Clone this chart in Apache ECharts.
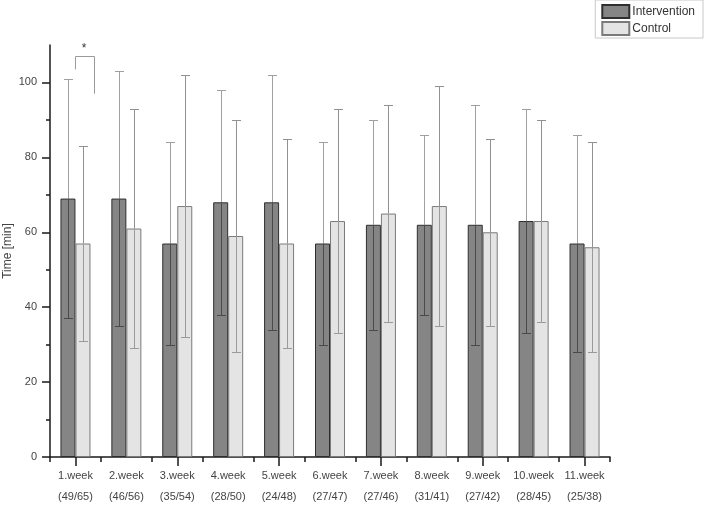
<!DOCTYPE html>
<html>
<head>
<meta charset="utf-8">
<script src="https://cdn.jsdelivr.net/npm/echarts@6/dist/echarts.min.js"></script>
<style>html,body{margin:0;padding:0;background:#fff}#c{width:704px;height:505px}</style>
</head>
<body>
<div id="c"></div>
<script>
var weeks = ['1.week','2.week','3.week','4.week','5.week','6.week','7.week','8.week','9.week','10.week','11.week'];
var counts = ['(49/65)','(46/56)','(35/54)','(28/50)','(24/48)','(27/47)','(27/46)','(31/41)','(27/42)','(28/45)','(25/38)'];
var intervention = [69, 69, 57, 68, 68, 57, 62, 62, 62, 63, 57];
var interventionLow = [37, 35, 30, 38, 34, 30, 34, 38, 30, 33, 28];
var interventionHigh = [101, 103, 84, 98, 102, 84, 90, 86, 94, 93, 86];
var control = [57, 61, 67, 59, 57, 63, 65, 67, 60, 63, 56];
var controlLow = [31, 29, 32, 28, 29, 33, 36, 35, 35, 36, 28];
var controlHigh = [83, 93, 102, 90, 85, 93, 94, 99, 85, 90, 84];
var yMajorTicks = [0, 20, 40, 60, 80, 100];
var yMinorTicks = [10, 30, 50, 70, 90];
var yAxisTitle = 'Time [min]';
// significance bracket: category index, bracket top, left end, right end
var sigBracket = [[0, 107, 103.5, 97]];

var categories = weeks.map(function (w, i) { return w + '\n' + counts[i]; });
var BAR_W = 15;
var FONT = 'Liberation Sans, Arial, sans-serif';

function errData(mean, lo, hi) {
  return mean.map(function (m, i) { return [i, lo[i], hi[i], m]; });
}
function errRender(offset, upColor, lowColor) {
  return function (params, api) {
    var i = api.value(0);
    var pLo = api.coord([i, api.value(1)]);
    var pHi = api.coord([i, api.value(2)]);
    var pM = api.coord([i, api.value(3)]);
    var x = Math.round(pM[0] + offset) + 0.5;
    var cap = 4.5;
    var yl = Math.round(pLo[1]) + 0.5, yh = Math.round(pHi[1]) + 0.5, ym = pM[1];
    return {
      type: 'group',
      children: [
        { type: 'line', shape: { x1: x, y1: yh, x2: x, y2: ym }, style: { stroke: upColor, lineWidth: 1 } },
        { type: 'line', shape: { x1: x, y1: ym, x2: x, y2: yl }, style: { stroke: lowColor, lineWidth: 1 } },
        { type: 'line', shape: { x1: x - cap, y1: yh, x2: x + cap, y2: yh }, style: { stroke: upColor, lineWidth: 1 } },
        { type: 'line', shape: { x1: x - cap, y1: yl, x2: x + cap, y2: yl }, style: { stroke: lowColor, lineWidth: 1 } }
      ]
    };
  };
}

var chart = echarts.init(document.getElementById('c'));
chart.setOption({
  animation: false,
  backgroundColor: '#fff',
  textStyle: { fontFamily: FONT },
  grid: { left: 50, right: 94, top: 45, bottom: 48, containLabel: false, outerBoundsMode: 'none' },
  graphic: [{
    type: 'text', x: 8, y: 251, rotation: Math.PI / 2,
    style: { text: yAxisTitle, align: 'center', verticalAlign: 'middle', fontSize: 12, fill: '#444', fontFamily: FONT }
  }],
  legend: {
    orient: 'vertical', right: 1, top: 0,
    icon: 'rect',
    itemWidth: 27, itemHeight: 13, itemGap: 2,
    padding: [4, 8, 2, 6],
    borderColor: '#c8c8c8', borderWidth: 1,
    textStyle: { fontSize: 12, color: '#333', fontFamily: FONT, padding: [0, 0, 0, -2] },
    data: ['Intervention', 'Control']
  },
  xAxis: [
    {
      type: 'category', data: categories,
      axisLine: { lineStyle: { color: '#1a1a1a', width: 1.5 } },
      axisTick: { show: true, length: 5, lineStyle: { color: '#1a1a1a', width: 1.5 } },
      axisLabel: { margin: 8, fontSize: 11, color: '#444', lineHeight: 21, fontFamily: FONT, interval: 0 }
    },
    {
      type: 'category', data: categories, position: 'bottom',
      axisLine: { show: false },
      axisTick: { show: true, alignWithLabel: true, length: 9, lineStyle: { color: '#1a1a1a', width: 1.5 } },
      axisLabel: { show: false }
    }
  ],
  yAxis: [
    {
      type: 'value', min: 0, max: 110, interval: 10,
      axisLine: { show: true, lineStyle: { color: '#1a1a1a', width: 1.5 } },
      axisTick: { show: true, length: 8, customValues: yMajorTicks, lineStyle: { color: '#1a1a1a', width: 1.5 } },
      axisLabel: { margin: 13, fontSize: 11, color: '#444', fontFamily: FONT, customValues: yMajorTicks },
      splitLine: { show: false }
    },
    {
      type: 'value', min: 0, max: 110, interval: 10, position: 'left',
      axisLine: { show: false },
      axisTick: { show: true, length: 4, customValues: yMinorTicks, lineStyle: { color: '#1a1a1a', width: 1.5 } },
      axisLabel: { show: false },
      splitLine: { show: false }
    }
  ],
  series: [
    {
      name: 'Intervention', type: 'bar', data: intervention, barWidth: BAR_W, barGap: '0%',
      itemStyle: { color: '#858585', borderColor: '#2e2e2e', borderWidth: 1 }
    },
    {
      name: 'Control', type: 'bar', data: control, barWidth: BAR_W, barGap: '0%',
      itemStyle: { color: '#e4e4e4', borderColor: '#7a7a7a', borderWidth: 1 }
    },
    {
      type: 'custom', name: 'errI', z: 5, silent: true,
      renderItem: errRender(-BAR_W / 2, '#a0a0a0', '#4a4a4a'),
      encode: { x: 0, y: [1, 2] },
      data: errData(intervention, interventionLow, interventionHigh)
    },
    {
      type: 'custom', name: 'errC', z: 5, silent: true,
      renderItem: errRender(BAR_W / 2, '#919191', '#9a9a9a'),
      encode: { x: 0, y: [1, 2] },
      data: errData(control, controlLow, controlHigh)
    },
    {
      type: 'custom', name: 'sig', z: 6, silent: true, clip: false,
      renderItem: function (params, api) {
        var i = api.value(0);
        var pTop = api.coord([i, api.value(1)]);
        var pL = api.coord([i, api.value(2)]);
        var pR = api.coord([i, api.value(3)]);
        var xl = Math.round(pTop[0]) + 0.5, xr = xl + 19;
        var yt = Math.round(pTop[1]) + 0.5;
        return {
          type: 'group',
          children: [
            { type: 'polyline', shape: { points: [[xl, pL[1]], [xl, yt], [xr, yt], [xr, pR[1]]] }, style: { stroke: '#9a9a9a', lineWidth: 1, fill: null } },
            { type: 'text', style: { text: '*', x: (xl + xr) / 2 - 1, y: yt - 8, align: 'center', verticalAlign: 'middle', fontSize: 12, fill: '#333', fontFamily: FONT } }
          ]
        };
      },
      encode: { x: 0, y: 1 },
      data: sigBracket
    }
  ]
});
</script>
</body>
</html>
